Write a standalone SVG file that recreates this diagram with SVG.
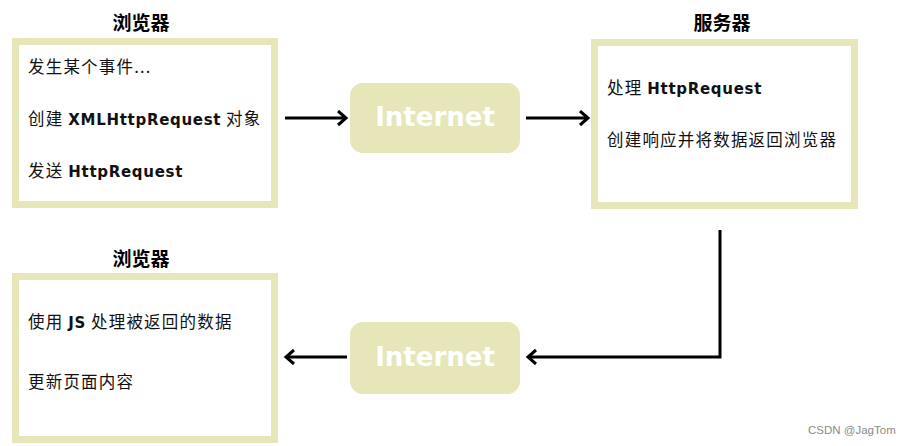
<svg xmlns="http://www.w3.org/2000/svg" width="906" height="446" viewBox="0 0 906 446">
<style>
.box{fill:#fff;stroke:#e6e6b9;stroke-width:7}
.net{fill:#e6e6b9}
.nt{font-family:"DejaVu Sans",Verdana,sans-serif;font-weight:bold;font-size:26px;fill:#fff;text-anchor:middle}
.title{font-family:"Noto Sans CJK SC",sans-serif;font-weight:bold;font-size:19px;fill:#000;text-anchor:middle}
.t{font-family:"Noto Sans CJK SC",sans-serif;font-size:16.5px;fill:#111;letter-spacing:1.2px}
.b{font-family:"DejaVu Sans",Verdana,sans-serif;font-weight:bold;font-size:15px;letter-spacing:0.7px}
.c{fill:none;stroke:#000;stroke-width:3}
.wm{font-family:"Liberation Sans",Arial,sans-serif;font-size:11.5px;fill:#8a8a8a}
</style>
<defs>
<marker id="ah" markerUnits="userSpaceOnUse" markerWidth="14" markerHeight="18" refX="11" refY="8" orient="auto">
<path d="M3,1 L11,8 L3,15" fill="none" stroke="#000" stroke-width="3"/>
</marker>
</defs>
<g id="browser1">
<text class="title" x="141" y="30">浏览器</text>
<rect class="box" x="15.5" y="41.5" width="259" height="163"/>
<text class="t" x="28" y="73">发生某个事件...</text>
<text class="t" x="28" y="125">创建 <tspan class="b">XMLHttpRequest</tspan> 对象</text>
<text class="t" x="28" y="177">发送 <tspan class="b">HttpRequest</tspan></text>
</g>
<g id="internet1">
<rect class="net" x="350" y="83" width="170" height="70" rx="13"/>
<text class="nt" x="435" y="126">Internet</text>
</g>
<g id="server">
<text class="title" x="722" y="30">服务器</text>
<rect class="box" x="594.5" y="42.5" width="260" height="163"/>
<text class="t" x="607" y="94">处理 <tspan class="b">HttpRequest</tspan></text>
<text class="t" x="607" y="146">创建响应并将数据返回浏览器</text>
</g>
<g id="browser2">
<text class="title" x="141" y="266">浏览器</text>
<rect class="box" x="15.5" y="276.5" width="259" height="163"/>
<text class="t" x="28" y="328">使用 <tspan class="b">JS</tspan> 处理被返回的数据</text>
<text class="t" x="28" y="388">更新页面内容</text>
</g>
<g id="internet2">
<rect class="net" x="350" y="322" width="170" height="72" rx="13"/>
<text class="nt" x="435" y="366">Internet</text>
</g>
<g id="connectors">
<path class="c" d="M285,118 H346" marker-end="url(#ah)"/>
<path class="c" d="M526,118 H588" marker-end="url(#ah)"/>
<path class="c" d="M720,230 V357 H528" marker-end="url(#ah)"/>
<path class="c" d="M347,357 H286" marker-end="url(#ah)"/>
</g>
<text class="wm" x="808" y="434">CSDN @JagTom</text>
</svg>
